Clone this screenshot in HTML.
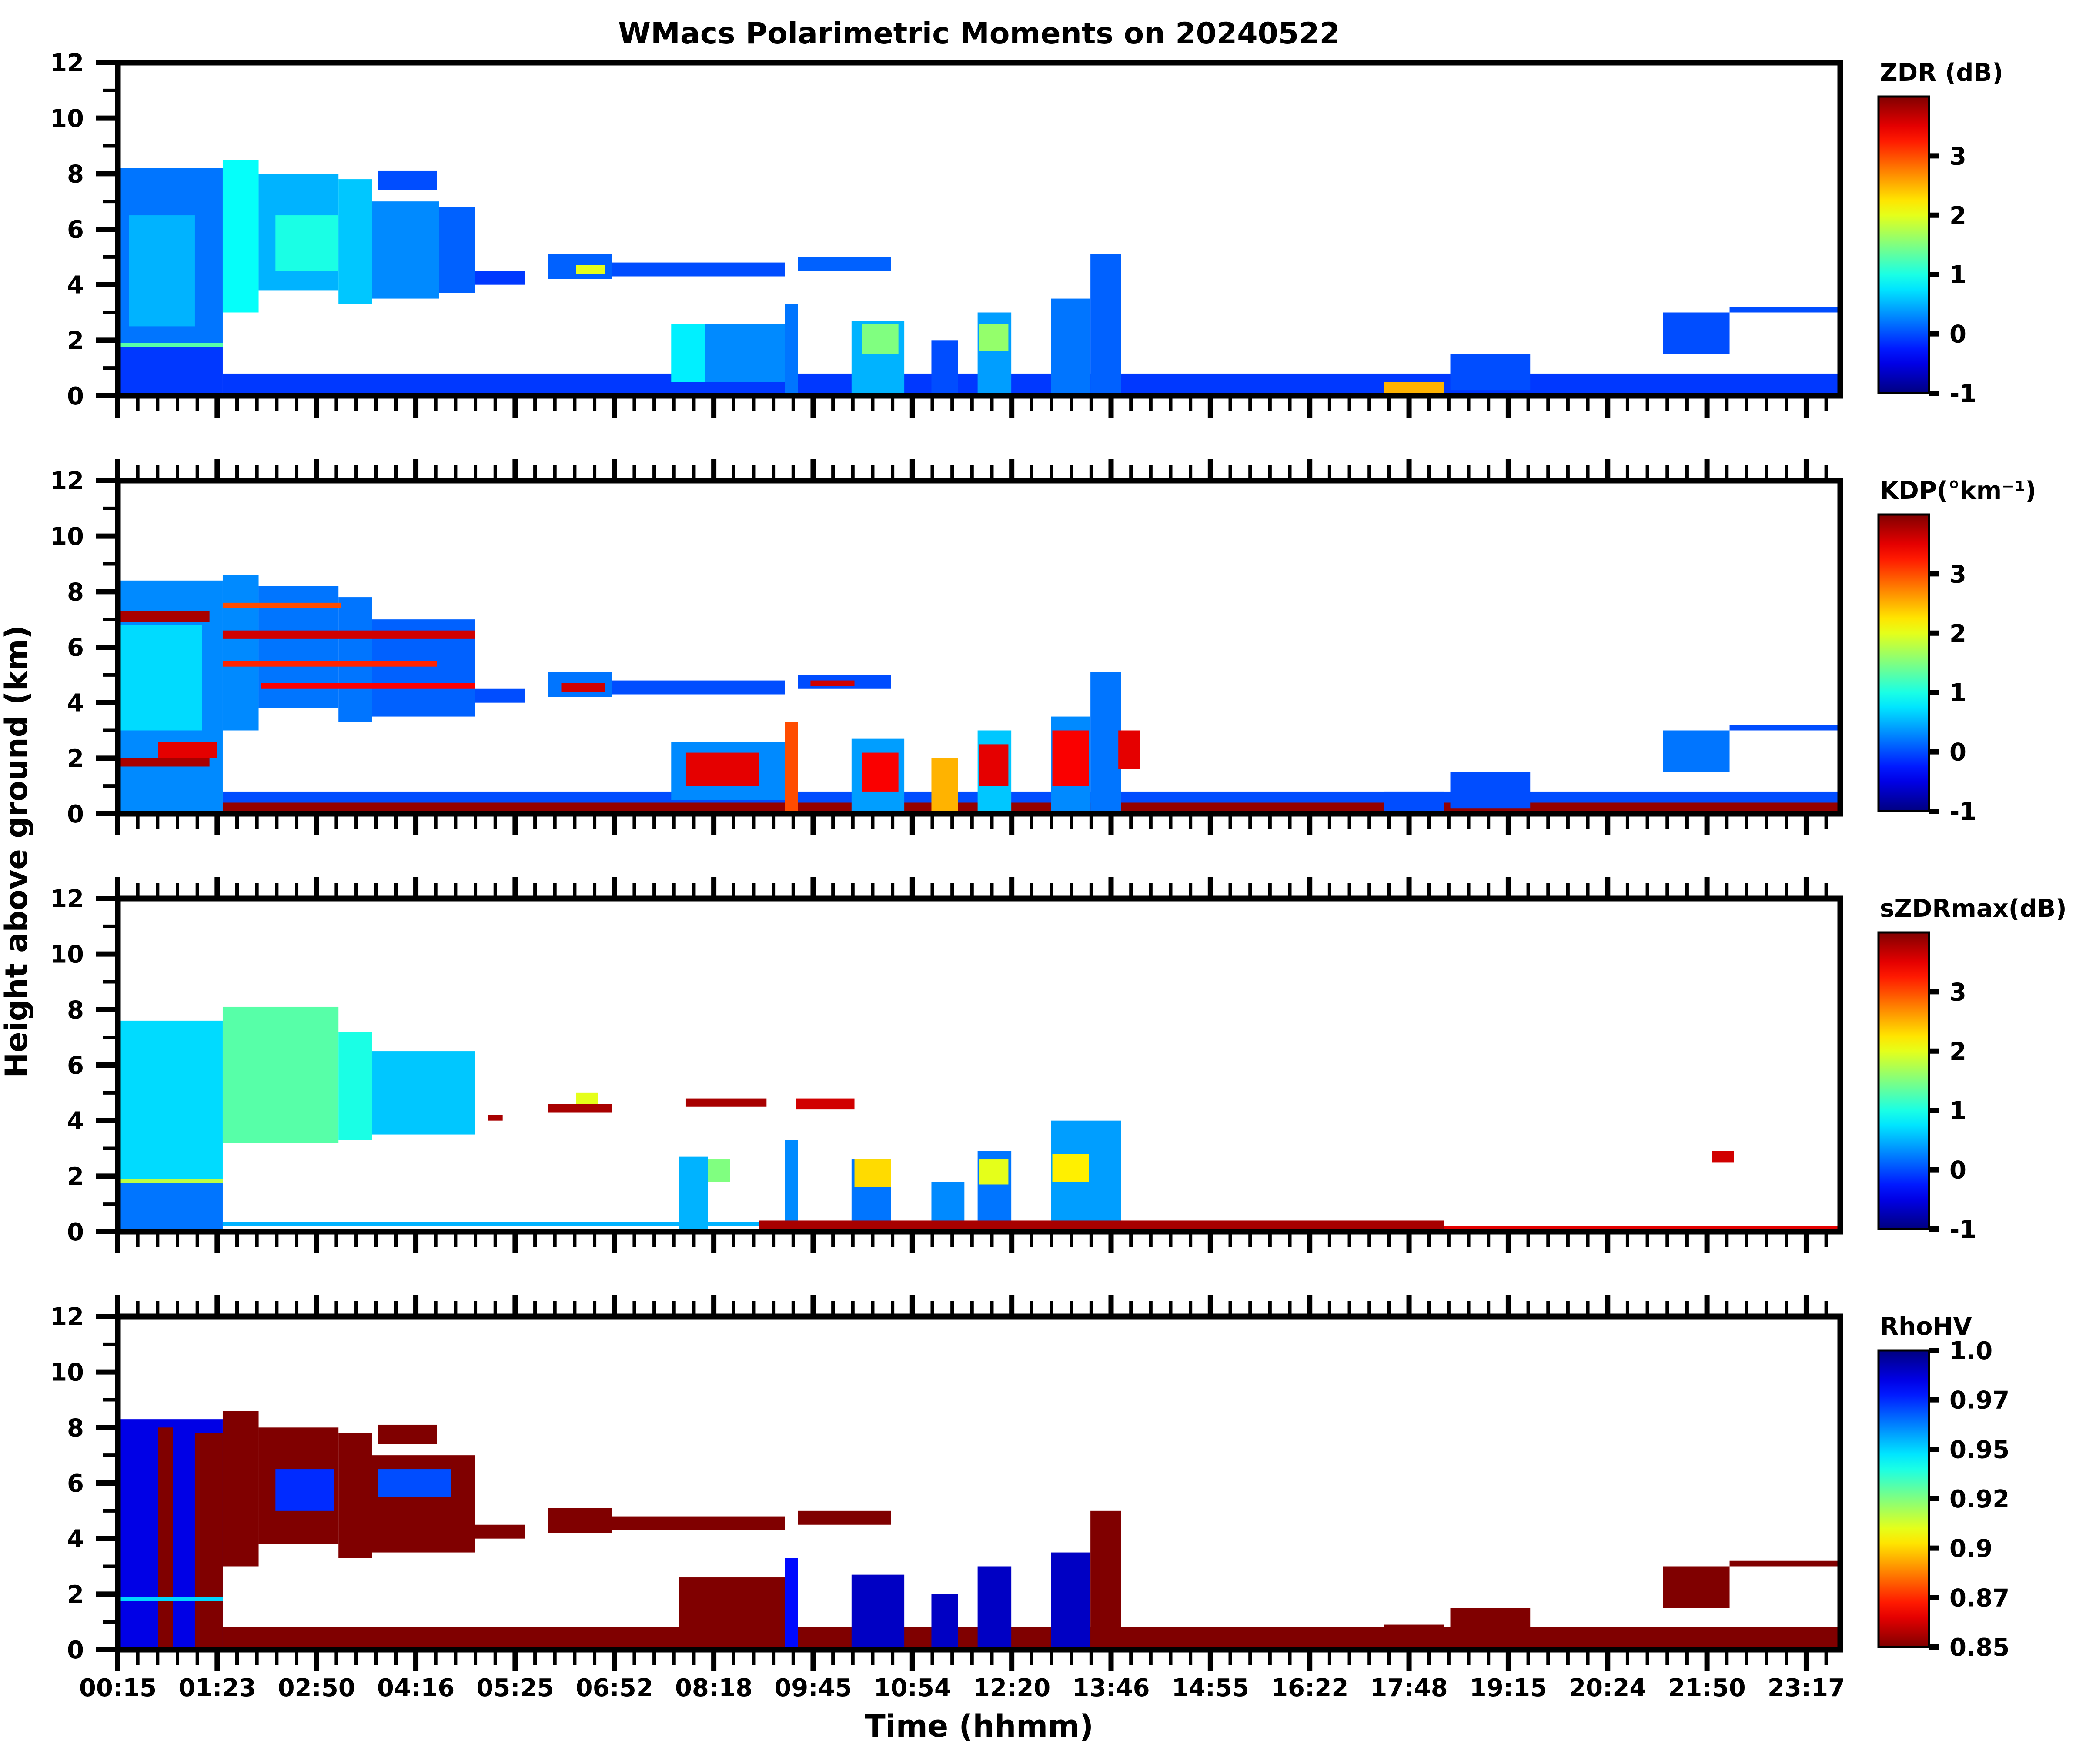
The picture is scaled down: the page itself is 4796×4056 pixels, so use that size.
<!DOCTYPE html>
<html><head><meta charset="utf-8"><style>
html,body{margin:0;padding:0;background:#fff}
svg{display:block}
text{font-family:"DejaVu Sans","Liberation Sans",sans-serif;font-weight:bold;fill:#000}
</style></head><body>
<svg id="fig" xmlns="http://www.w3.org/2000/svg" width="4796" height="4056" viewBox="0 0 4796 4056">
<rect width="4796" height="4056" fill="#fff"/>
<text x="2251" y="100" font-size="68" text-anchor="middle">WMacs Polarimetric Moments on 20240522</text>
<text x="2251" y="3993" font-size="70" text-anchor="middle">Time (hhmm)</text>
<text transform="translate(62,1958) rotate(-90)" font-size="70" text-anchor="middle">Height above ground (km)</text>
<defs id="defs"></defs>
<g id="panels"></g>
</svg>
<script>
// ---- data ----
const timeTickLabels = ["00:15","01:23","02:50","04:16","05:25","06:52","08:18","09:45","10:54","12:20","13:46","14:55","16:22","17:48","19:15","20:24","21:50","23:17"];
const heightTicks = [0,2,4,6,8,10,12];
const panelTitles = ["ZDR (dB)","KDP(°km⁻¹)","sZDRmax(dB)","RhoHV"];
const cbTicksLinear = [-1,0,1,2,3];
const cbTicksRho = [1.0,0.975,0.95,0.925,0.9,0.875,0.85];
const cbTicksRhoLabels = ["1.0","0.97","0.95","0.92","0.9","0.87","0.85"];
// cells: [startHour, endHour, bottomKm, topKm, value]
const zdrCells = [
 [0.25,1.68,0,1.8,-0.1],[0.25,1.68,1.8,8.2,0.2],[0.4,1.3,2.5,6.5,0.5],[0.25,1.68,1.75,1.9,1.3],
 [1.68,2.17,3.0,8.5,0.9],[2.17,3.26,3.8,8.0,0.5],[2.4,3.26,4.5,6.5,1.0],
 [3.26,3.72,3.3,7.8,0.6],[3.72,4.63,3.5,7.0,0.3],[4.63,5.12,3.7,6.8,0.1],
 [3.8,4.6,7.4,8.1,0.0],[5.12,5.81,4.0,4.5,-0.1],[6.12,6.99,4.2,5.1,0.1],
 [6.5,6.9,4.4,4.7,2.0],[6.99,9.35,4.3,4.8,0.0],[9.53,10.8,4.5,5.0,0.1],
 [1.68,23.75,0,0.8,-0.1],[7.8,8.26,0.5,2.6,0.8],[8.26,9.35,0.5,2.6,0.3],
 [9.35,9.53,0,3.3,0.2],[10.26,10.98,0,2.7,0.5],[10.4,10.9,1.5,2.6,1.5],
 [11.35,11.71,0,2.0,0],[11.98,12.44,0,3.0,0.4],[12.0,12.4,1.6,2.6,1.6],
 [12.98,13.52,0,3.5,0.2],[13.52,13.94,0,5.1,0.1],[17.52,18.34,0,0.5,2.5],
 [18.43,19.52,0.2,1.5,0],[21.33,22.24,1.5,3.0,0],[22.24,23.75,3.0,3.2,0]
];
const kdpCells = [
 [0.25,1.68,0,8.4,0.3],[0.25,1.4,3.0,6.8,0.7],[0.25,1.5,6.9,7.3,3.8],[0.25,1.5,1.7,2.0,3.8],[0.8,1.6,2.0,2.6,3.5],
 [1.68,2.17,3.0,8.6,0.3],[2.17,3.26,3.8,8.2,0.2],[3.26,3.72,3.3,7.8,0.2],[3.72,5.12,3.5,7.0,0.1],
 [1.68,5.12,6.3,6.6,3.6],[1.68,4.6,5.3,5.5,3.2],[2.2,5.12,4.5,4.7,3.4],[1.68,3.3,7.4,7.6,3.0],
 [5.12,5.81,4.0,4.5,0],[6.12,6.99,4.2,5.1,0.2],[6.99,9.35,4.3,4.8,0],[9.53,10.8,4.5,5.0,0],
 [6.3,6.9,4.4,4.7,3.6],[9.7,10.3,4.6,4.8,3.6],
 [1.68,23.75,0,0.8,0],[1.68,23.75,0,0.4,3.9],
 [7.8,9.35,0.5,2.6,0.3],[8.0,9.0,1.0,2.2,3.5],[9.35,9.53,0,3.3,3.0],
 [10.26,10.98,0,2.7,0.4],[10.4,10.9,0.8,2.2,3.4],[11.35,11.71,0,2.0,2.5],
 [11.98,12.44,0,3.0,0.6],[12.0,12.4,1.0,2.5,3.5],[12.98,13.52,0,3.5,0.3],[13.0,13.5,1.0,3.0,3.4],
 [13.52,13.94,0,5.1,0.2],[13.9,14.2,1.6,3.0,3.5],[17.52,18.34,0,0.8,0],
 [18.43,19.52,0.2,1.5,0],[21.33,22.24,1.5,3.0,0.2],[22.24,23.75,3.0,3.2,0]
];
const szdrCells = [
 [0.25,1.68,0,1.8,0.2],[0.25,1.68,1.8,7.6,0.7],[0.25,1.68,1.75,1.9,1.8],
 [1.68,3.26,3.2,8.1,1.3],[3.26,3.72,3.3,7.2,1.0],[3.72,5.12,3.5,6.5,0.6],
 [5.3,5.5,4.0,4.2,3.8],[6.12,6.99,4.3,4.6,3.8],[6.5,6.8,4.6,5.0,2.0],
 [8.0,9.1,4.5,4.8,3.8],[9.5,10.3,4.4,4.8,3.6],
 [7.9,8.3,0.1,2.7,0.5],[8.3,8.6,1.8,2.6,1.5],[9.35,9.53,0,3.3,0.3],
 [10.26,10.8,0,2.6,0.2],[10.3,10.8,1.6,2.6,2.3],[11.35,11.8,0,1.8,0.3],
 [11.98,12.44,0,2.9,0.2],[12.0,12.4,1.7,2.6,2.0],[12.98,13.94,0,4.0,0.4],
 [13.0,13.5,1.8,2.8,2.2],[9.0,18.34,0,0.4,3.8],[1.68,9.0,0.2,0.35,0.5],
 [18.34,23.75,0,0.2,3.5],[22.0,22.3,2.5,2.9,3.6]
];
const rhoCells = [
 [0.25,1.68,0,8.3,0.985],[0.8,1.0,0,8.0,0.85],[1.3,1.68,0,7.8,0.85],[0.25,1.68,1.75,1.9,0.95],
 [1.68,2.17,3.0,8.6,0.85],[2.17,3.26,3.8,8.0,0.85],[2.4,3.2,5.0,6.5,0.975],
 [3.26,3.72,3.3,7.8,0.85],[3.72,5.12,3.5,7.0,0.85],[3.8,4.8,5.5,6.5,0.97],
 [3.8,4.6,7.4,8.1,0.85],[5.12,5.81,4.0,4.5,0.85],[6.12,6.99,4.2,5.1,0.85],
 [6.99,9.35,4.3,4.8,0.85],[9.53,10.8,4.5,5.0,0.85],
 [1.68,23.75,0,0.8,0.85],[7.9,9.35,0,2.6,0.85],[9.35,9.53,0,3.3,0.98],
 [10.26,10.98,0,2.7,0.99],[11.35,11.71,0,2.0,0.99],[11.98,12.44,0,3.0,0.99],
 [12.98,13.52,0,3.5,0.99],[13.52,13.94,0,5.0,0.85],[17.52,18.34,0,0.9,0.85],
 [18.43,19.52,0.2,1.5,0.85],[21.33,22.24,1.5,3.0,0.85],[22.24,23.75,3.0,3.2,0.85]
];
const panelCells = [zdrCells,kdpCells,szdrCells,rhoCells];

// ---- layout ----
const NS="http://www.w3.org/2000/svg";
const X0=271, X1=4231, T0=0.25, T1=23.75;
const panelTops=[144,1105,2066,3027], PH=766;
const tickX0=271, tickStep=228.35;
function xScale(h){return X0+(h-T0)/(T1-T0)*(X1-X0);}
function yScale(top,km){return top+PH-(km/12)*PH;}
function jet(t){t=Math.max(0,Math.min(1,t));
 const c=v=>Math.round(255*Math.max(0,Math.min(1,v)));
 return `rgb(${c(1.5-Math.abs(4*t-3))},${c(1.5-Math.abs(4*t-2))},${c(1.5-Math.abs(4*t-1))})`;}
function colorFor(p,v){ if(p===3) return jet((1.0-v)/0.15); return jet((v+1)/5);}
function mk(tag,attrs,parent){const e=document.createElementNS(NS,tag);for(const k in attrs)e.setAttribute(k,attrs[k]);parent.appendChild(e);return e;}

const root=document.getElementById('panels');
const defs=document.getElementById('defs');
const gLin=mk('linearGradient',{id:'gLin',x1:0,y1:1,x2:0,y2:0},defs);
const gRho=mk('linearGradient',{id:'gRho',x1:0,y1:0,x2:0,y2:1},defs);
for(let i=0;i<=20;i++){const t=i/20;
 mk('stop',{offset:t,'stop-color':jet(t)},gLin);
 mk('stop',{offset:t,'stop-color':jet(t)},gRho);}

panelTitles.forEach((title,p)=>{
 const top=panelTops[p], bot=top+PH;
 const g=mk('g',{},root);
 
 
 const heat=mk('g',{},g);
 
 
 panelCells[p].forEach(c=>{
  const x=xScale(c[0]), w=xScale(c[1])-x, y=yScale(top,c[3]), h=yScale(top,c[2])-y;
  const r=mk('rect',{x:x,y:y,width:w,height:h,fill:colorFor(p,c[4])},heat);
  
  
 });
 const fr=mk('rect',{x:X0,y:top,width:X1-X0,height:PH,fill:'none',stroke:'#000','stroke-width':13},g);
 
 
 for(let k=0;k<=12;k++){const y=yScale(top,k),maj=k%2===0;
  mk('line',{x1:X0,x2:X0-(maj?50:35),y1:y,y2:y,stroke:'#000','stroke-width':maj?12:8},g);}
 heightTicks.forEach(v=>{
  const t=mk('text',{x:193,y:yScale(top,v)+20,'font-size':56,'text-anchor':'end'},g);
  t.textContent=v;
  
  
 });
 for(let i=0;i<(timeTickLabels.length-1)*5+2;i++){
  const x=tickX0+i*tickStep/5; if(x>X1) break; const maj=i%5===0;
  mk('line',{x1:x,x2:x,y1:bot,y2:bot+(maj?50:35),stroke:'#000','stroke-width':maj?12:8},g);
  if(p>0) mk('line',{x1:x,x2:x,y1:top,y2:top-(maj?50:35),stroke:'#000','stroke-width':maj?12:8},g);
 }
 if(p===3){timeTickLabels.forEach((lab,i)=>{
  const t=mk('text',{x:tickX0+i*tickStep,y:3900,'font-size':56,'text-anchor':'middle'},g);
  t.textContent=lab;
  
  
 });}
 const cbTop=top+78, cbBot=bot-6, cbX=4319, cbW=116;
 const cb=mk('rect',{x:cbX,y:cbTop,width:cbW,height:cbBot-cbTop,fill:p===3?'url(#gRho)':'url(#gLin)',stroke:'#000','stroke-width':5},g);
 
 
 const ct=mk('text',{x:4322,y:top+42,'font-size':56},g);
 ct.textContent=title;
 
 
 const ticks=p===3?cbTicksRho:cbTicksLinear;
 ticks.forEach((v,i)=>{
  const y=p===3? cbTop+(1.0-v)/0.15*(cbBot-cbTop) : cbBot-(v+1)/5*(cbBot-cbTop);
  mk('line',{x1:cbX+cbW,x2:cbX+cbW+22,y1:y,y2:y,stroke:'#000','stroke-width':12},g);
  const t=mk('text',{x:4482,y:y+20,'font-size':56},g);
  t.textContent=p===3?cbTicksRhoLabels[i]:v;
  
  
 });
});
</script>
</body></html>
